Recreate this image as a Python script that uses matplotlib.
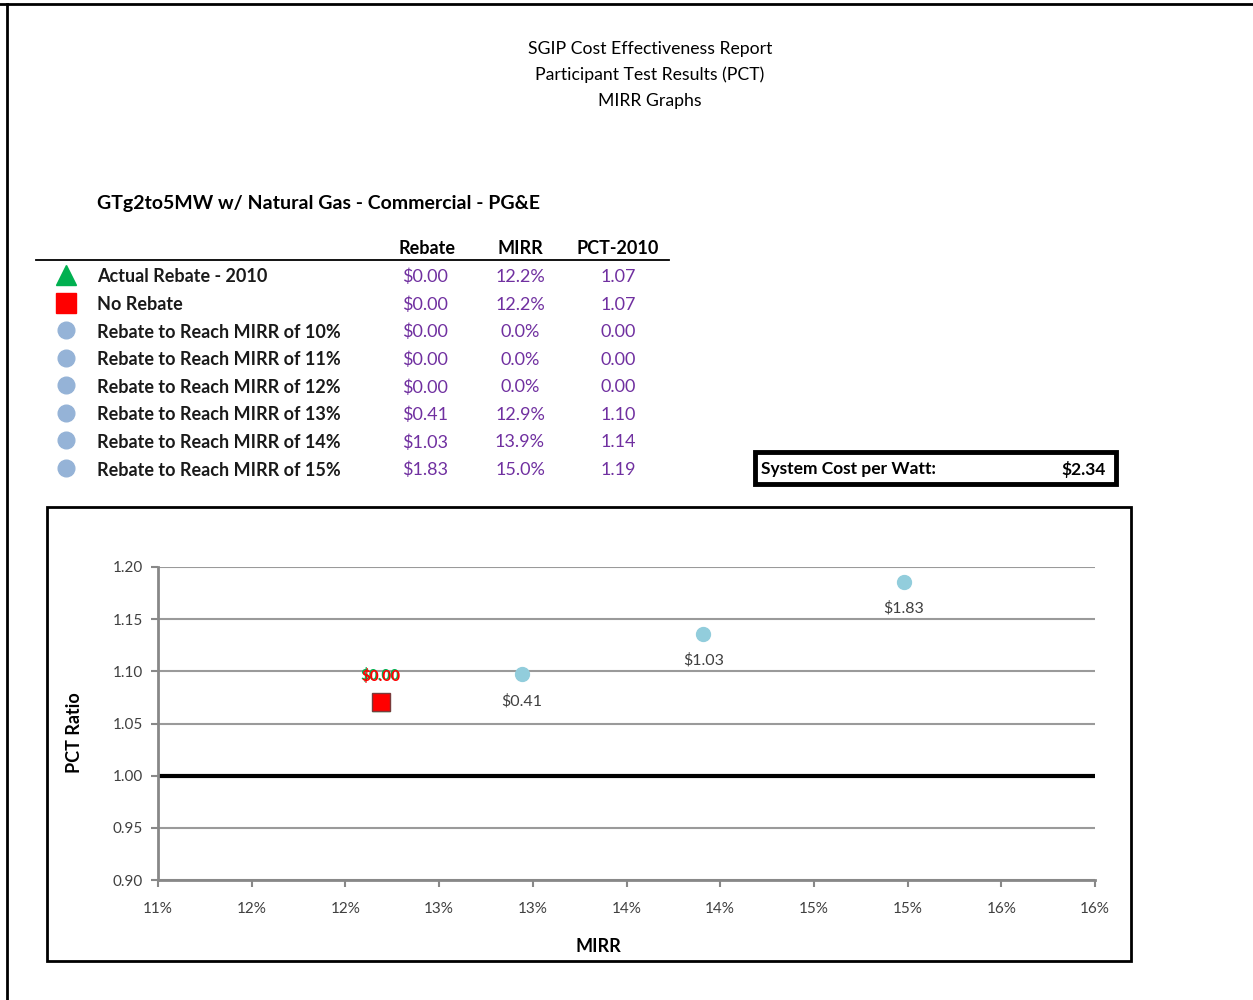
import numpy as np
import matplotlib.pyplot as plt
from matplotlib.patches import Rectangle
from matplotlib.lines import Line2D
from matplotlib.ticker import FuncFormatter, MultipleLocator

plt.rcParams['font.family'] = ['Lato', 'DejaVu Sans']

# table / chart data
row_labels = ["Actual Rebate - 2010", "No Rebate",
              "Rebate to Reach MIRR of 10%", "Rebate to Reach MIRR of 11%",
              "Rebate to Reach MIRR of 12%", "Rebate to Reach MIRR of 13%",
              "Rebate to Reach MIRR of 14%", "Rebate to Reach MIRR of 15%"]
rebates = [0.00, 0.00, 0.00, 0.00, 0.00, 0.41, 1.03, 1.83]
mirr = [0.1219, 0.1219, 0.0, 0.0, 0.0, 0.1294, 0.1391, 0.1498]
pct = [1.071, 1.071, 0.00, 0.00, 0.00, 1.097, 1.136, 1.186]
system_cost = 2.34

W, H = 1253, 1000
fig = plt.figure(figsize=(W / 100, H / 100), dpi=100)

def fx(px):
    return px / W

def fy(py):
    return 1 - py / H

# page border
fig.add_artist(Line2D([0, 1], [fy(4), fy(4)], color='black', lw=2))
fig.add_artist(Line2D([fx(7), fx(7)], [0, fy(4)], color='black', lw=2))

# report header
for i, t in enumerate(["SGIP Cost Effectiveness Report",
                       "Participant Test Results (PCT)", "MIRR Graphs"]):
    fig.text(fx(650), fy(49 + i * 26), t, ha='center', va='center', fontsize=12.7)

fig.text(fx(97), fy(203), "GTg2to5MW w/ Natural Gas - Commercial - PG&E",
         ha='left', va='center', fontsize=14, fontweight='bold')

# table header
purple = '#7030A0'
col_x = [427, 520, 618]
for x, t in zip(col_x, ["Rebate", "MIRR", "PCT-2010"]):
    fig.text(fx(x), fy(249), t, ha='center', va='center', fontsize=13, fontweight='bold')
fig.add_artist(Line2D([fx(36), fx(669)], [fy(260), fy(260)], color='black', lw=1.3))

row_y = np.linspace(277, 470, len(row_labels))
for i, lab in enumerate(row_labels):
    y = fy(row_y[i])
    if i == 0:
        mk, c, s = '^', '#00B050', 14
    elif i == 1:
        mk, c, s = 's', '#FF0000', 14
    else:
        mk, c, s = 'o', '#95B3D7', 12
    fig.add_artist(Line2D([fx(66)], [fy(row_y[i] - 2)], marker=mk, color=c, markersize=s, lw=0))
    fig.text(fx(97), y, lab, ha='left', va='center', fontsize=13, fontweight='bold', color='#1a1a1a')
    fig.text(fx(col_x[0] - 2), y, f"${rebates[i]:.2f}", ha='center', va='center', fontsize=13, color=purple)
    fig.text(fx(col_x[1]), y, f"{mirr[i] * 100:.1f}%", ha='center', va='center', fontsize=13, color=purple)
    fig.text(fx(col_x[2]), y, f"{pct[i]:.2f}", ha='center', va='center', fontsize=13, color=purple)

# system cost box
fig.add_artist(Rectangle((fx(755), fy(484)), fx(1116) - fx(755), fy(452) - fy(484),
                         fill=False, edgecolor='black', lw=3.5))
fig.text(fx(761), fy(469), "System Cost per Watt:", ha='left', va='center', fontsize=12.5, fontweight='bold')
fig.text(fx(1106), fy(469), f"${system_cost:.2f}", ha='right', va='center', fontsize=12.5, fontweight='bold')

# chart box
fig.add_artist(Rectangle((fx(47), fy(961)), fx(1131) - fx(47), fy(507) - fy(961),
                         fill=False, edgecolor='black', lw=2))

ax = fig.add_axes([fx(158), fy(880), fx(1095) - fx(158), fy(567) - fy(880)])
ax.set_xlim(0.11, 0.16)
ax.set_ylim(0.90, 1.20)
ax.xaxis.set_major_locator(MultipleLocator(0.005))
ax.yaxis.set_major_locator(MultipleLocator(0.05))
ax.xaxis.set_major_formatter(FuncFormatter(lambda v, p: f"{int(np.floor(v * 100 + 0.5 + 1e-9))}%"))
ax.yaxis.set_major_formatter(FuncFormatter(lambda v, p: f"{v:.2f}"))
for s in ['top', 'right']:
    ax.spines[s].set_visible(False)
for s in ['left', 'bottom']:
    ax.spines[s].set_color('#888888')
    ax.spines[s].set_linewidth(2)
ax.tick_params(axis='both', colors='#888888', labelcolor='#404040', labelsize=11, width=1.5, length=5)
ax.tick_params(axis='x', pad=11)
ax.tick_params(axis='y', pad=6)
ax.grid(axis='y', color='#9a9a9a', lw=1.5)
ax.set_axisbelow(True)
ax.axhline(1.0, color='black', lw=3, zorder=2)

# actual rebate (hidden under no rebate) and no rebate
ax.plot(mirr[0], pct[0], marker='^', color='#00B050', markersize=13, lw=0, zorder=3)
ax.plot(mirr[1], pct[1], marker='s', color='#FF0000', markeredgecolor='#7a3b3b',
        markersize=13, lw=0, zorder=4)
ax.annotate(f"${rebates[0]:.2f}", (mirr[0], pct[0]), xytext=(-0.7, 18.7), textcoords='offset points',
            ha='center', va='center', color='#00B050', fontsize=11, fontweight='bold')
ax.annotate(f"${rebates[1]:.2f}", (mirr[1], pct[1]), xytext=(0, 18), textcoords='offset points',
            ha='center', va='center', color='#FF0000', fontsize=11, fontweight='bold')

# rebate to reach MIRR points (only non-zero ones show)
for i in range(2, len(row_labels)):
    if mirr[i] <= 0:
        continue
    ax.plot(mirr[i], pct[i], marker='o', color='#92CDDC', markersize=10, lw=0, zorder=3)
    ax.annotate(f"${rebates[i]:.2f}", (mirr[i], pct[i]), xytext=(0, -19), textcoords='offset points',
                ha='center', va='center', color='#404040', fontsize=11.5)

fig.text(fx(75), fy(733), "PCT Ratio", rotation=90, ha='center', va='center', fontsize=13, fontweight='bold')
fig.text(fx(598), fy(946), "MIRR", ha='center', va='center', fontsize=13, fontweight='bold')

fig.savefig("out.png", dpi=100)
